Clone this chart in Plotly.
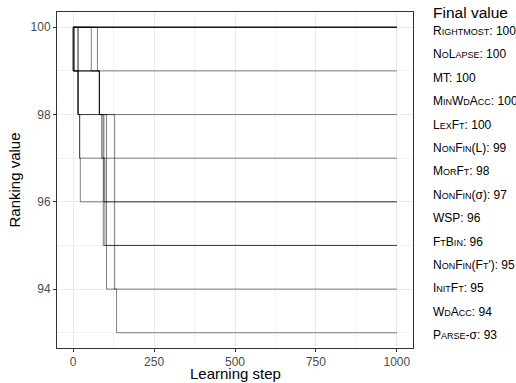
import plotly.graph_objects as go

# Constraint names (legend order) and final ranking values
constraints = ["Rightmost", "NoLapse", "MT", "MinWdAcc", "LexFt", "NonFin(L)", "MorFt",
               "NonFin(σ)", "WSP", "FtBin", "NonFin(Ft')", "InitFt", "WdAcc", "Parse-σ"]
final_values = [100, 100, 100, 100, 100, 99, 98, 97, 96, 96, 95, 95, 94, 93]

# Learning steps at which each constraint's ranking value dropped by one unit
drop_steps = {
    "Rightmost": [],
    "NoLapse": [],
    "MT": [],
    "MinWdAcc": [],
    "LexFt": [],
    "NonFin(L)": [0],
    "MorFt": [15, 15],
    "NonFin(σ)": [0, 15, 20],
    "WSP": [0, 15, 20, 22],
    "FtBin": [3, 15, 92, 95],
    "NonFin(Ft')": [15, 81, 95, 98, 98],
    "InitFt": [3, 81, 88, 93, 93],
    "WdAcc": [56, 81, 103, 103, 103, 103],
    "Parse-σ": [75, 81, 128, 128, 128, 128, 134],
}
start_value = 100
n_steps = 1000

x_ticks = [0, 250, 500, 750, 1000]
y_ticks = [94, 96, 98, 100]
x_title = "Learning step"
y_title = "Ranking value"
legend_title = "Final value"


def small_caps(name, small=9):
    out = []
    for ch in name:
        if ch.isascii() and ch.islower():
            out.append(f'<span style="font-size:{small}px">{ch.upper()}</span>')
        else:
            out.append(ch)
    return "".join(out)


fig = go.Figure()
for name in constraints:
    steps = drop_steps[name]
    xs = [0] + steps + [n_steps]
    ys = [start_value]
    v = start_value
    for _ in steps:
        v -= 1
        ys.append(v)
    ys.append(v)
    fig.add_trace(go.Scatter(x=xs, y=ys, mode="lines", line_shape="hv",
                             line=dict(color="rgba(0,0,0,0.5)", width=1),
                             name=name, showlegend=False, hoverinfo="skip"))

font_family = "Liberation Sans, Arial, sans-serif"

L, R, T, B = 57, 413, 12, 348
W, H = 516, 383
pw, ph = R - L, B - T
def px_x(p):
    return (p - L) / pw
def px_y(p):
    return (B - p) / ph

# Legend drawn as text
fig.add_annotation(text=legend_title, xref="paper", yref="paper",
                   x=px_x(431), y=px_y(13), xanchor="left", yanchor="middle",
                   showarrow=False, font=dict(size=15.5, color="black", family=font_family))
for i, (name, val) in enumerate(zip(constraints, final_values)):
    fig.add_annotation(text=f"{small_caps(name)}: {val}", xref="paper", yref="paper",
                       x=px_x(431), y=px_y(31 + i * 23.4), xanchor="left", yanchor="middle",
                       showarrow=False, font=dict(size=12, color="black", family=font_family))

# X axis title
fig.add_annotation(text=x_title, xref="paper", yref="paper",
                   x=0.5, y=px_y(383), xanchor="center", yanchor="bottom", borderpad=0,
                   showarrow=False, font=dict(size=15, color="black", family=font_family))

axis_common = dict(showline=True, linecolor="#333333", linewidth=1, mirror=True,
                   ticks="outside", ticklen=3, tickcolor="#333333", tickwidth=1,
                   gridcolor="#EBEBEB", gridwidth=1, zeroline=False, automargin=False,
                   tickfont=dict(size=12, color="#4D4D4D", family=font_family),
                   minor=dict(showgrid=True, gridcolor="#F3F3F3", gridwidth=0.6, ticks=""))

fig.update_xaxes(range=[-50, 1050], tickvals=x_ticks, ticktext=[str(v) for v in x_ticks],
                 **axis_common)
fig.update_xaxes(minor=dict(tickvals=[125, 375, 625, 875]))
fig.update_yaxes(range=[92.65, 100.35], tickvals=y_ticks, ticktext=[str(v) for v in y_ticks],
                 title=dict(text=y_title, font=dict(size=15, color="black", family=font_family), standoff=6),
                 **axis_common)
fig.update_yaxes(minor=dict(tickvals=[93, 95, 97, 99]))

fig.update_layout(width=W, height=H, margin=dict(l=L, r=W - R, t=T, b=H - B),
                  plot_bgcolor="white", paper_bgcolor="white",
                  font=dict(family=font_family), showlegend=False)

fig.write_html("out.html")
